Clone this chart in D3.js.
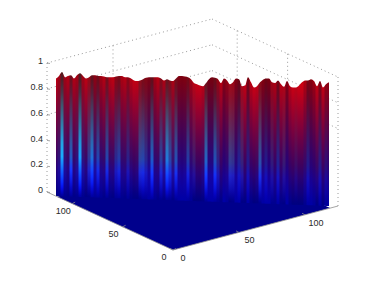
<!DOCTYPE html>
<html><head><meta charset="utf-8">
<script src="https://cdn.jsdelivr.net/npm/d3@7"></script>
<style>html,body{margin:0;padding:0;background:#fff}svg{display:block}text{font-family:"Liberation Sans",Arial,sans-serif;font-size:9px;fill:#2a2a2a}</style>
</head><body><svg id="c" width="374" height="282"></svg>
<script>
const xTicks=[0,50,100], yTicks=[0,50,100], zTicks=[0,0.2,0.4,0.6,0.8,1];
const xTickLabels=["0","50","100"], yTickLabels=["0","50","100"], zTickLabels=["0","0.2","0.4","0.6","0.8","1"];
const wallTop=[.88,.90,.93,.89,.90,.905,.88,.905,.92,.90,
.88,.89,.905,.905,.90,.90,.895,.89,.89,.89,
.895,.90,.90,.89,.89,.88,.865,.86,.865,.875,
.885,.89,.89,.89,.89,.88,.865,.875,.865,.86,
.88,.90,.90,.895,.89,.875,.845,.835,.825,.82,
.845,.875,.89,.885,.875,.845,.88,.865,.835,.85,
.88,.875,.82,.825,.89,.85,.81,.82,.85,.87,
.88,.88,.85,.845,.865,.835,.815,.86,.82,.81,
.81,.825,.85,.865,.865,.875,.86,.82,.86,.81,
.835,.85];
const wallShade=[.9,.7,.35,.7,.8,.45,.8,.7,.3,.7,
.9,.8,.35,.5,.4,.6,.8,.5,.8,.9,
.55,.45,.7,.8,.55,.8,.95,.95,.75,.5,
.5,.3,.3,.6,.8,.6,.8,.5,.6,.8,
.5,.3,.25,.3,.4,.6,1,1,1,.9,
.5,.2,.2,.35,.6,.8,.3,.5,.9,.8,
.3,.2,.9,.9,.3,.8,1,.95,.7,.3,
.2,.2,.7,.7,.3,.8,.9,.3,.8,1,
1,1,1,.7,.3,.3,.5,.9,.4,.9,
.5,.4];
const wallStripe=[.05,.2,.95,.2,.1,.6,.1,.2,.9,.2,
.1,.45,.7,.2,.5,.1,.1,.5,.1,.1,
.35,.45,.1,.1,.3,.1,.05,.1,.5,.5,
.35,.15,.6,.1,.1,.45,.2,.75,.5,.2,
.55,.1,.05,.1,.45,.1,.25,.05,.03,.1,
.65,.1,.1,.55,.3,.05,.03,.1,.45,.4,
.1,.3,.3,.05,.25,.05,.03,.1,.55,.1,
.25,.05,.25,.05,.3,.05,.25,.05,.03,.03,
.15,.03,.03,.1,.25,.05,.03,.1,.25,.05,
.15,.05];
const surfaceExtentX=119, surfaceExtentY=115, axisMax=125;
const wallGridX=[50], wallGridY=[50,100], wallGridZ=[0.6,0.8,1];

const svg=d3.select("#c");
const defs=svg.append("defs");
const pxX=d3.scaleLinear().domain([0,axisMax]).range([0,165]);
const pxY=d3.scaleLinear().domain([0,axisMax]).range([0,-44]);
const pyX=d3.scaleLinear().domain([0,axisMax]).range([0,-126]);
const pyY=d3.scaleLinear().domain([0,axisMax]).range([0,-58]);
const pz=d3.scaleLinear().domain([0,1]).range([0,-129]);
const P=(x,y,z)=>[173+pxX(x)+pyX(y),250+pxY(x)+pyY(y)+pz(z)];
const zY=d3.scaleLinear().domain([0,1]).range([192,63]);
const colX=d3.scaleLinear().domain([0,wallTop.length-1]).range([56,329]);
const baseY=d3.scaleLinear().domain([0,wallTop.length-1]).range([195,205]);
const gGain=d3.scaleLinear().domain([0,.05,.3,.42,.7,.85,1]).range([0,.05,1,.95,.5,.2,.12]).clamp(true);
const bGain=d3.scaleLinear().domain([0,.05,.2,.4,.7,.85,1]).range([0,.3,1,.7,.3,.1,.06]).clamp(true);
function colour(z,sh,st){
  const zz=Math.max(0,z), pw=Math.pow(st,1.45);
  const r=225*Math.pow(zz,1.05)*(.46+.54*sh)*(1-.4*st);
  const g=185*pw*gGain(zz);
  const b=150*(1-zz)*(1.15-.35*sh)+8+200*pw*bGain(zz)+(zz<.3?42*Math.sqrt(st):0)*Math.min(1,zz/.12);
  return d3.rgb(r,g,b).clamp().formatRgb();
}
const dotted=(g,a,b)=>g.append("line").attr("x1",a[0]).attr("y1",a[1]).attr("x2",b[0]).attr("y2",b[1])
  .attr("stroke","#808080").attr("stroke-width",.8).attr("stroke-dasharray","1 3");
const grid=svg.append("g");
const M=axisMax;
[[[0,M,0],[0,M,1]],[[M,0,0],[M,0,1]]].forEach(s=>dotted(grid,P(...s[0]),P(...s[1])));
wallGridZ.forEach(z=>{dotted(grid,P(0,M,z),P(M,M,z));dotted(grid,P(M,M,z),P(M,0,z));});
wallGridX.forEach(x=>dotted(grid,P(x,M,0),P(x,M,1)));
wallGridY.forEach(y=>dotted(grid,P(M,y,0),P(M,y,1)));
svg.append("polygon").attr("fill","#00008c").attr("points",
  [P(0,0,0),P(surfaceExtentX,0,0),P(surfaceExtentX,surfaceExtentY,0),P(0,surfaceExtentY,0)].map(p=>p.join(",")).join(" "));
const area=d3.area().x((d,i)=>colX(i)).y0((d,i)=>baseY(i)+1).y1(d=>zY(d)).curve(d3.curveMonotoneX);
defs.append("clipPath").attr("id","wallClip").append("path").attr("d",area(wallTop));
const blur=defs.append("filter").attr("id","soft").attr("x","-5%").attr("width","110%").attr("y","-5%").attr("height","110%")
  .attr("color-interpolation-filters","sRGB");
blur.append("feGaussianBlur").attr("stdDeviation","0.7 0.4");
const zStops=[0,.03,.06,.1,.15,.2,.3,.4,.5,.6,.7,.8,.9,1];
wallTop.forEach((t,i)=>{
  const bot=baseY(i);
  const gr=defs.append("linearGradient").attr("id","g"+i).attr("gradientUnits","userSpaceOnUse")
    .attr("x1",0).attr("x2",0).attr("y1",bot).attr("y2",bot-129);
  zStops.forEach(z=>gr.append("stop").attr("offset",z).attr("stop-color",colour(z,wallShade[i],wallStripe[i])));
});
const wall=svg.append("g").attr("clip-path","url(#wallClip)").append("g").attr("filter","url(#soft)");
wall.selectAll("rect").data(wallTop).join("rect")
  .attr("x",(d,i)=>colX(i)-1.5).attr("width",5)
  .attr("y",zY(1)).attr("height",(d,i)=>baseY(i)-zY(1)+3)
  .attr("fill",(d,i)=>`url(#g${i})`);
const axisG=svg.append("g");
const solid=(a,b)=>axisG.append("line").attr("x1",a[0]).attr("y1",a[1]).attr("x2",b[0]).attr("y2",b[1]).attr("stroke","#8f8f8f").attr("stroke-width",.8);
solid(P(0,0,0),P(M,0,0)); solid(P(0,0,0),P(0,M,0));
xTicks.forEach(v=>solid(P(v,0,0),[P(v,0,0)[0]-3,P(v,0,0)[1]-1.5]));
yTicks.forEach(v=>solid(P(0,v,0),[P(0,v,0)[0]+3,P(0,v,0)[1]-1.5]));
zTicks.forEach(v=>solid(P(0,M,v),[P(0,M,v)[0]+3,P(0,M,v)[1]+.5]));
const lab=svg.append("g");
zTicks.forEach((v,i)=>lab.append("text").attr("x",43).attr("y",P(0,M,v)[1]+1.2).attr("text-anchor","end").text(zTickLabels[i]));
xTicks.forEach((v,i)=>{const p=P(v,0,0);lab.append("text").attr("x",p[0]+10+v/100).attr("y",p[1]+11).attr("text-anchor","middle").text(xTickLabels[i]);});
yTicks.forEach((v,i)=>{const p=P(0,v,0);lab.append("text").attr("x",p[0]-9).attr("y",p[1]+10).attr("text-anchor","middle").text(yTickLabels[i]);});
</script></body></html>
